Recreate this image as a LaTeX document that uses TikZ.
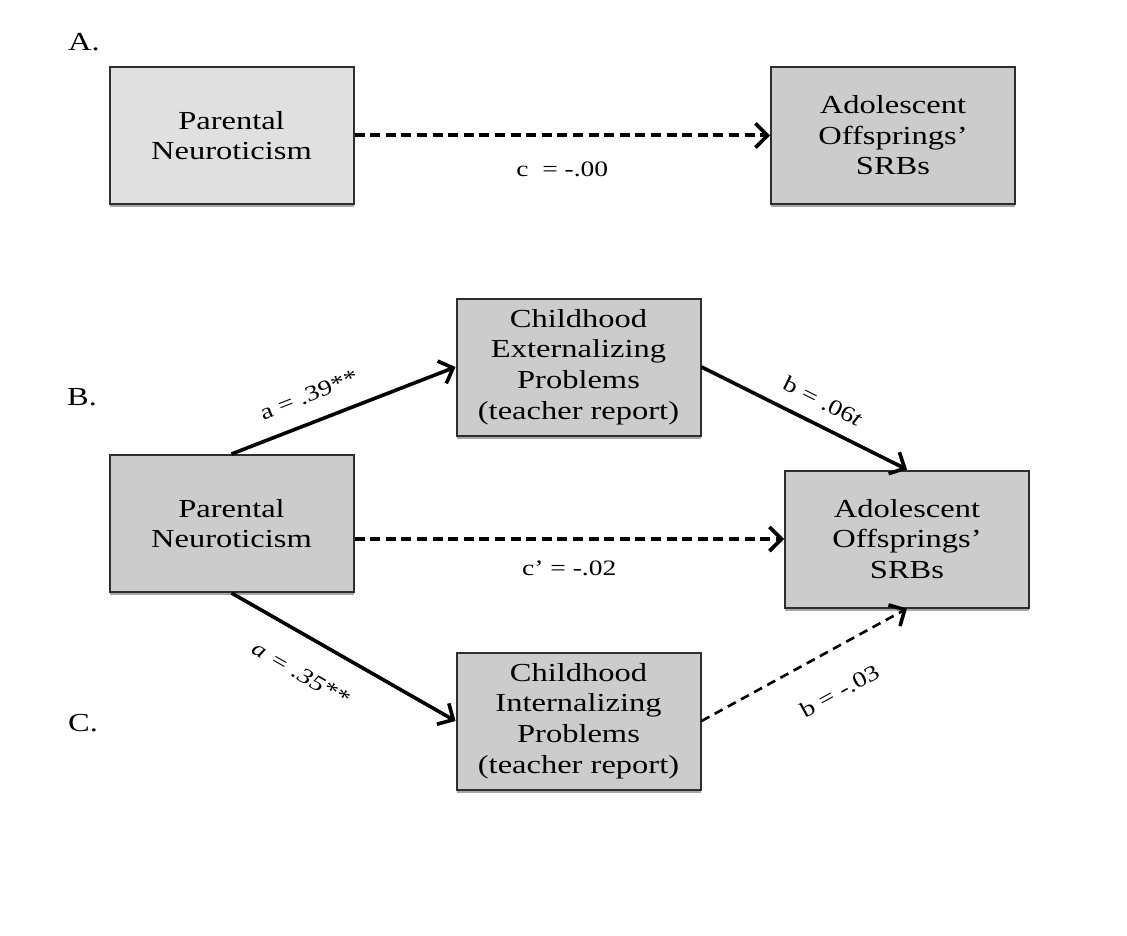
\documentclass[tikz,border=0pt]{standalone}
\usepackage{fontspec}
\setmainfont{Liberation Serif}[FakeStretch=1.25]
\usetikzlibrary{arrows.meta,shadows}
\definecolor{lightbox}{gray}{0.88}
\definecolor{darkbox}{gray}{0.80}
\definecolor{edgecol}{gray}{0.18}
\begin{document}
\begin{tikzpicture}[x=0.5pt,y=-0.5pt,
  box/.style={draw=edgecol, line width=1pt, fill=darkbox,
    minimum width=122pt, minimum height=68.5pt, align=center,
    inner sep=2pt, font=\fontsize{13}{15.3}\selectfont,
    drop shadow={shadow xshift=0pt, shadow yshift=-1.6pt, opacity=0.35, fill=black}},
  lightbox/.style={box, fill=lightbox},
  sect/.style={font=\fontsize{13}{15}\selectfont, inner sep=0pt},
  lbl/.style={font=\fontsize{11}{13}\selectfont, sloped},
  tip/.style={-{Straight Barb[length=6pt,width=12pt,line width=1.8pt]}},
  solidarr/.style={line width=1.8pt, tip},
  dasharr/.style={line width=1.6pt, dash pattern=on 5pt off 2.8pt, tip},
]
\useasboundingbox[fill=white] (0,0) rectangle (1127,935);

% section labels
\node[sect] (lA) at (84,42) {A.};
\node[sect] (lB) at (82,397) {B.};
\node[sect] (lC) at (83,723) {C.};

% panel A
\node[lightbox] (PA) at (231.5,135.5) {Parental\\Neuroticism};
\node[box] (AA) at (893,135.5) {Adolescent\\Offsprings’\\SRBs};
\draw[dasharr, line width=2pt] (PA.east) -- node[lbl, below, inner sep=12pt] {c~ = -.00} (AA.west);

% panel B / C
\node[box] (PB) at (231.5,523.5) {Parental\\Neuroticism};
\node[box] (Ext) at (578.5,367) {Childhood\\Externalizing\\Problems\\(teacher report)};
\node[box] (Int) at (578.5,721) {Childhood\\Internalizing\\Problems\\(teacher report)};
\node[box] (AB) at (907,539) {Adolescent\\Offsprings’\\SRBs};

\draw[solidarr] (PB.north) -- node[lbl, pos=0.39, above, inner sep=9pt] {a = .39**} (Ext.west);
\draw[solidarr] (Ext.east) -- node[lbl, pos=0.54, above, inner sep=7pt] {b = .06\textit{t}} (AB.north);
\draw[dasharr] (PB.east |- AB.west) -- node[lbl, below, inner sep=10pt] {c’ = -.02} (AB.west);
\draw[solidarr] (PB.south) -- node[lbl, pos=0.39, below, inner sep=13pt] {\textit{a = .35**}} (Int.west);
\draw[dasharr, line width=1.3pt, dash pattern=on 4.5pt off 3pt] (Int.east) -- node[lbl, pos=0.58, below, inner sep=15.5pt] {b = -.03} (AB.south);
\end{tikzpicture}
\end{document}
